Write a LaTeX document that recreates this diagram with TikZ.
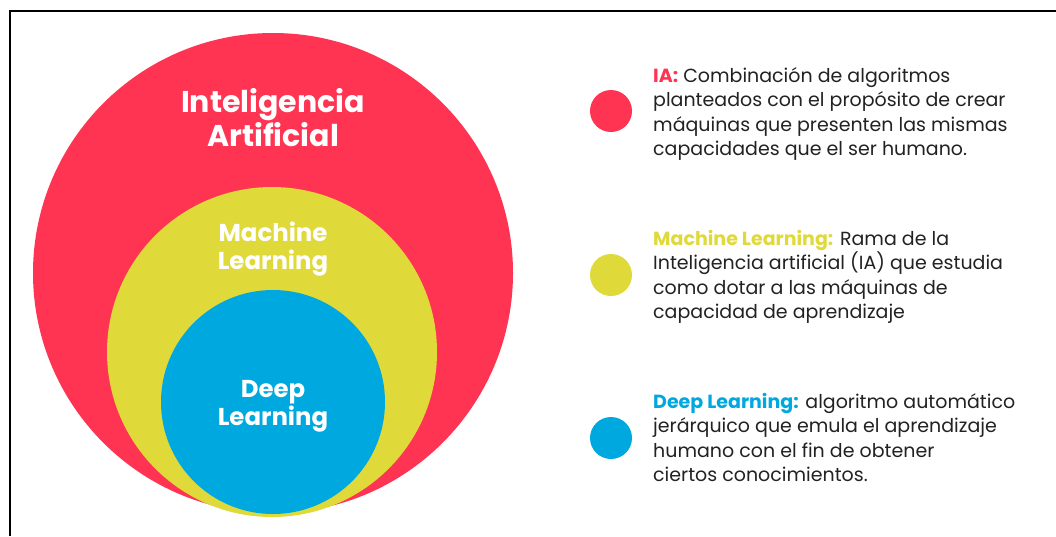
\documentclass[tikz,border=0pt]{standalone}
\usepackage{fontspec}
\setmainfont{Poppins}
\definecolor{iared}{HTML}{FF3352}
\definecolor{mlyellow}{HTML}{E0D93A}
\definecolor{dlblue}{HTML}{00A8E0}
\definecolor{txt}{HTML}{222222}
\begin{document}
\begin{tikzpicture}[x=1pt,y=-1pt,
  circlab/.style={text=white,font=\fontsize{30}{34}\selectfont\bfseries,align=center,inner sep=0pt},
  circlabsm/.style={text=white,font=\fontsize{24.4}{28}\selectfont\bfseries,align=center,inner sep=0pt},
  dot/.style={circle,minimum size=42pt,inner sep=0pt},
  desc/.style={anchor=north west,align=left,text=txt,inner sep=0pt,font=\fontsize{19}{24.5}\selectfont}]
\useasboundingbox (0,0) rectangle (1056,536);
\fill[white] (0,0) rectangle (1056,536);
\draw[line width=1.6pt] (10,536) -- (10,11) -- (1056,11);
% circles
\fill[iared] (273,273) circle[radius=240];
\fill[mlyellow] (272,352) circle[radius=165];
\fill[dlblue] (273,402) circle[radius=112];
\node[circlab] (ia) at (273,118) {Inteligencia\\Artificial};
\node[circlabsm] (ml) at (273,249) {Machine\\Learning};
\node[circlabsm] (dl) at (273,406) {Deep\\Learning};
% legend
\node[dot,fill=iared] (d1) at (611,111) {};
\node[dot,fill=mlyellow] (d2) at (611,275) {};
\node[dot,fill=dlblue] (d3) at (611,438) {};
\node[desc] (t1) at (653,67) {{\bfseries\color{iared}IA:} Combinación de algoritmos\\planteados con el propósito de crear\\máquinas que presenten las mismas\\capacidades que el ser humano.};
\node[desc] (t2) at (653,230) {{\bfseries\color{mlyellow}Machine Learning:} Rama de la\\Inteligencia artificial (IA) que estudia\\como dotar a las máquinas de\\capacidad de aprendizaje};
\node[desc] (t3) at (653,393) {{\bfseries\color{dlblue}Deep Learning:} algoritmo automático\\jerárquico que emula el aprendizaje\\humano con el fin de obtener\\ciertos conocimientos.};
\end{tikzpicture}
\end{document}
